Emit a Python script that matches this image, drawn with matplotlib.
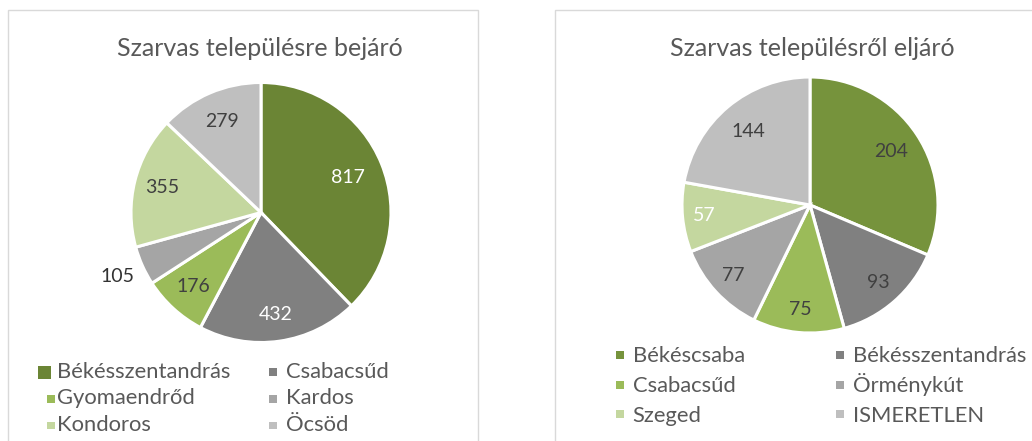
import matplotlib
matplotlib.use("Agg")
import matplotlib.pyplot as plt
from matplotlib.patches import Rectangle
import numpy as np

plt.rcParams['font.family'] = ['Lato', 'DejaVu Sans']

W, H = 1032, 441

left_title = "Szarvas településre bejáró"
left_labels = ["Békésszentandrás", "Csabacsűd", "Gyomaendrőd", "Kardos", "Kondoros", "Öcsöd"]
left_values = [817, 432, 176, 105, 355, 279]

right_title = "Szarvas településről eljáró"
right_labels = ["Békéscsaba", "Békésszentandrás", "Csabacsűd", "Örménykút", "Szeged", "ISMERETLEN"]
right_values = [204, 93, 75, 77, 57, 144]

left_colors = ['#6B8535', '#808080', '#9BBB59', '#A5A5A5', '#C4D79F', '#BFBFBF']
right_colors = ['#76933C', '#808080', '#9BBB59', '#A5A5A5', '#C4D79F', '#BFBFBF']
left_txtcol = ['white', 'white', '#404040', '#333333', '#404040', '#404040']
right_txtcol = ['#404040', '#404040', '#404040', '#404040', 'white', '#404040']
left_dist = [0.72, 0.79, 0.77, 1.21, 0.78, 0.76]
right_dist = [0.76, 0.81, 0.82, 0.81, 0.83, 0.75]

fig = plt.figure(figsize=(W / 100, H / 100), dpi=100)
fig.patch.set_facecolor('white')


def fx(x):
    return x / W


def fy(y):
    return 1 - y / H


# chart area borders
for (x0, x1) in [(8, 478), (555, 1040)]:
    fig.patches.append(Rectangle((fx(x0), fy(460)), (x1 - x0) / W, 450 / H,
                                 transform=fig.transFigure, fill=False,
                                 edgecolor='#D9D9D9', linewidth=1.0))


def square(x0, x1, yc, color):
    s = x1 - x0
    fig.patches.append(Rectangle((fx(x0), fy(yc + s / 2)), s / W, s / H,
                                 transform=fig.transFigure, facecolor=color,
                                 edgecolor='none'))


def draw_pie(cx, cy, r, values, colors, txtcol, dist, labels, title, tx,
             col_marks, col_text, row_mark_y, row_base_y, big_first=None):
    ax = fig.add_axes([(cx - r) / W, (H - cy - r) / H, 2 * r / W, 2 * r / H])
    wedges, _ = ax.pie(values, colors=colors, startangle=90, counterclock=False,
                       wedgeprops=dict(edgecolor='white', linewidth=2.2))
    ax.set_xlim(-1, 1)
    ax.set_ylim(-1, 1)
    ax.set_aspect('auto')
    ax.axis('off')
    total = float(sum(values))
    start = 90.0
    for v, c, d in zip(values, txtcol, dist):
        span = v / total * 360.0
        mid = np.deg2rad(start - span / 2)
        ax.text(d * np.cos(mid), d * np.sin(mid), str(v), ha='center', va='center',
                color=c, fontsize=14)
        start -= span
    fig.text(fx(tx), fy(56), title, ha='center', va='baseline', fontsize=18,
             color='#595959')
    # legend, row-major, two columns
    for i, (lab, col) in enumerate(zip(labels, colors)):
        row, cc = divmod(i, 2)
        m0, m1 = col_marks[cc]
        if i == 0 and big_first is not None:
            m0, m1 = big_first
        square(m0, m1, row_mark_y[row], col)
        fig.text(fx(col_text[cc]), fy(row_base_y[row]), lab, ha='left',
                 va='baseline', fontsize=15.8, color='#595959')
    return ax


draw_pie(261, 212.5, 130, left_values, left_colors, left_txtcol, left_dist,
         left_labels, left_title, 259.5,
         [(47.3, 54.7), (269.3, 277.0)], [57.3, 285.7],
         [372, 399, 425.5], [378.3, 404.3, 431], big_first=(37.5, 50.5))
draw_pie(810, 205, 128, right_values, right_colors, right_txtcol, right_dist,
         right_labels, right_title, 812.5,
         [(616, 624), (835.7, 843.7)], [632.7, 853.3],
         [354.7, 385, 414], [361.7, 392.3, 421.7])

fig.savefig('out.png', dpi=100, facecolor='white')
